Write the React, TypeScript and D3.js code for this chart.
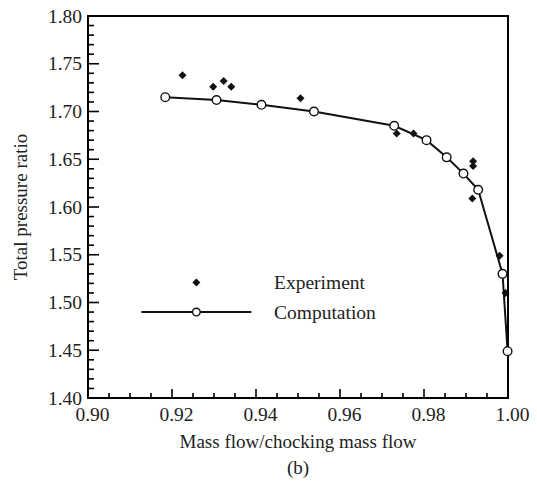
import React from "react";
import * as d3 from "d3";

const compX = [0.9184, 0.9306, 0.9413, 0.9538, 0.9729, 0.9806, 0.9854, 0.9894, 0.9929, 0.9987, 0.9999];
const compY = [1.715, 1.712, 1.707, 1.700, 1.685, 1.670, 1.652, 1.635, 1.618, 1.530, 1.449];

const expX = [0.9225, 0.9298, 0.9323, 0.9341, 0.9506, 0.9735, 0.9775, 0.9917, 0.9917, 0.9915, 0.9980, 0.9994];
const expY = [1.738, 1.726, 1.732, 1.726, 1.714, 1.677, 1.677, 1.648, 1.643, 1.609, 1.549, 1.510];

const xTicks = [0.90, 0.92, 0.94, 0.96, 0.98, 1.00];
const yTicks = [1.40, 1.45, 1.50, 1.55, 1.60, 1.65, 1.70, 1.75, 1.80];

const xLabel = "Mass flow/chocking mass flow";
const yLabel = "Total pressure ratio";
const subLabel = "(b)";
const legendNames = ["Experiment", "Computation"];

const W = 537, H = 482;
const L = 88, R = 508, T = 16, B = 398;
const FONT = "'Liberation Serif', 'Times New Roman', serif";

export default function App() {
  const x = d3.scaleLinear().domain([0.9, 1.0]).range([L, R]);
  const y = d3.scaleLinear().domain([1.4, 1.8]).range([B, T]);
  const comp = compX.map((v, i) => [v, compY[i]] as [number, number]);
  const exp = expX.map((v, i) => [v, expY[i]] as [number, number]);
  const line = d3.line<[number, number]>().x(d => x(d[0])).y(d => y(d[1]));

  const xMinor = d3.range(0, 21).map(i => 0.9 + i * 0.005);
  const yMinor = d3.range(0, 41).map(i => 1.4 + i * 0.01);

  const diamond = (cx: number, cy: number, s = 4) =>
    `M${cx},${cy - s}L${cx + s},${cy}L${cx},${cy + s}L${cx - s},${cy}Z`;

  const legX = 0.9258, legY1 = 1.521, legY2 = 1.490;

  return (
    <svg width={W} height={H} style={{ position: "absolute", left: 0, top: 0, background: "#fff" }}>
      <rect x={0} y={0} width={W} height={H} fill="#fff" />
      {xMinor.map((v, i) => (
        <line key={"xm" + i} x1={x(v)} x2={x(v)} y1={B} y2={B - (i % 4 === 0 ? 9 : 5)} stroke="#000" strokeWidth={1.6} />
      ))}
      {yMinor.map((v, i) => (
        <line key={"ym" + i} x1={L} x2={L + (i % 5 === 0 ? 11 : 6)} y1={y(v)} y2={y(v)} stroke="#000" strokeWidth={1.6} />
      ))}
      <rect x={L} y={T} width={R - L} height={B - T} fill="none" stroke="#000" strokeWidth={2} />
      {xTicks.map(v => (
        <text key={"xt" + v} x={x(v) + 4.5} y={421} textAnchor="middle" fontFamily={FONT} fontSize={19.5} fill="#222">
          {v.toFixed(2)}
        </text>
      ))}
      {yTicks.map(v => (
        <text key={"yt" + v} x={82} y={y(v) + 6.5} textAnchor="end" fontFamily={FONT} fontSize={19.5} fill="#222">
          {v.toFixed(2)}
        </text>
      ))}
      <text x={(L + R) / 2} y={448} textAnchor="middle" fontFamily={FONT} fontSize={19} fill="#222">{xLabel}</text>
      <text x={(L + R) / 2} y={474} textAnchor="middle" fontFamily={FONT} fontSize={19} fill="#222">{subLabel}</text>
      <text transform={`translate(27,${(T + B) / 2}) rotate(-90)`} textAnchor="middle" fontFamily={FONT} fontSize={19} fill="#222">{yLabel}</text>

      <path d={line(comp) || ""} fill="none" stroke="#111" strokeWidth={2} />
      {comp.map((d, i) => (
        <circle key={"c" + i} cx={x(d[0])} cy={y(d[1])} r={4.3} fill="#fff" stroke="#111" strokeWidth={1.4} />
      ))}
      {exp.map((d, i) => (
        <path key={"e" + i} d={diamond(x(d[0]), y(d[1]))} fill="#111" />
      ))}

      <path d={diamond(x(legX), y(legY1))} fill="#111" />
      <line x1={x(0.9127)} x2={x(0.9389)} y1={y(legY2)} y2={y(legY2)} stroke="#111" strokeWidth={2} />
      <circle cx={x(legX)} cy={y(legY2)} r={3.8} fill="#fff" stroke="#111" strokeWidth={1.4} />
      <text x={274} y={y(legY1) + 7} fontFamily={FONT} fontSize={19.5} fill="#222">{legendNames[0]}</text>
      <text x={274} y={y(legY2) + 7} fontFamily={FONT} fontSize={19.5} fill="#222">{legendNames[1]}</text>
    </svg>
  );
}
